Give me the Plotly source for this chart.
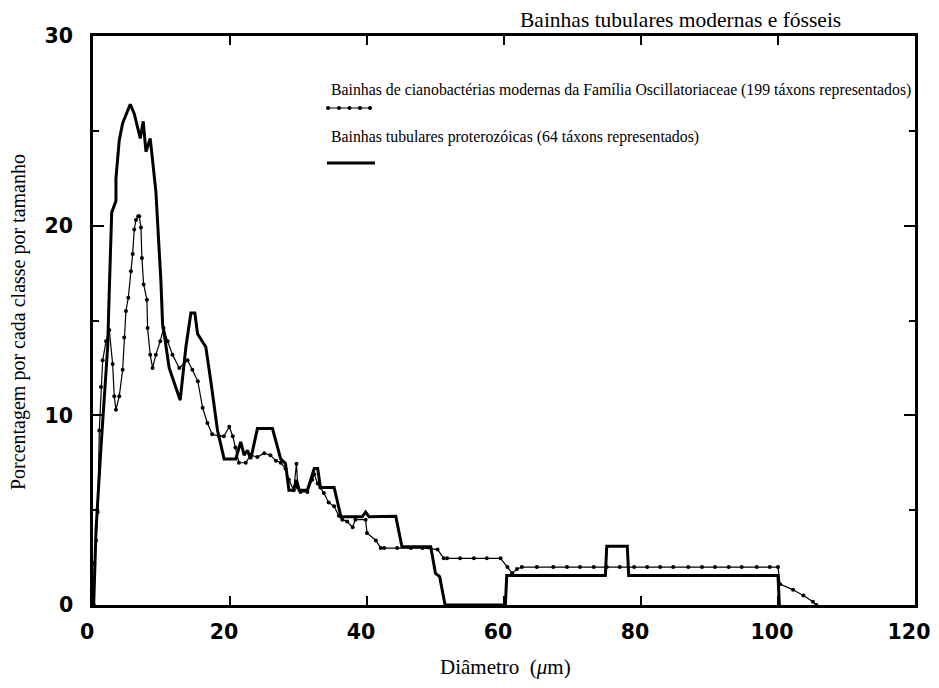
import plotly.graph_objects as go

# ---------------- data ----------------
proterozoic_x = [0.1, 0.44, 1.17, 1.65, 2.14, 2.38, 2.73, 3.35, 3.35, 3.83, 4.33, 5.44, 6.02, 6.9,
                 7.33, 7.73, 8.35, 8.56, 9.18, 9.91, 10.16, 10.39, 11.12, 12.73, 13.56, 14.29,
                 14.87, 15.26, 16.47, 17.2, 18.18, 19.14, 20.85, 21.57, 22.06, 22.55, 23.03, 24.0,
                 26.2, 27.4, 28.1, 28.6, 29.3, 29.7, 30.1, 31.3, 32.3, 32.8, 33.2, 35.2, 36.2,
                 39.3, 39.8, 40.3, 44.2, 45.1, 49.3, 50.0, 50.6, 51.4, 60.2, 60.4, 74.8, 75.0,
                 78.0, 78.2, 100.0, 100.2]
proterozoic_y = [0, 3.95, 8.33, 10.96, 13.6, 16.6, 20.7, 21.3, 22.5, 24.5, 25.4, 26.4, 25.9, 24.6,
                 25.5, 23.9, 24.6, 23.9, 21.8, 17.1, 14.8, 14.3, 12.5, 10.8, 13.6, 15.4,
                 15.4, 14.3, 13.6, 11.8, 9.2, 7.7, 7.7, 8.6, 7.9, 8.16, 7.7, 9.3,
                 9.3, 7.7, 7.46, 6.05, 6.05, 6.6, 6.05, 6.05, 7.2, 7.2, 6.2, 6.2, 4.65,
                 4.65, 4.9, 4.65, 4.68, 3.07, 3.07, 1.67, 1.5, 0, 0, 1.55, 1.55, 3.1,
                 3.1, 1.55, 1.55, 0]

modern_x = [0.1, 0.19, 0.44, 0.69, 0.92, 1.17, 1.41, 1.9, 2.38, 2.87, 3.1, 3.35, 3.83, 4.33,
            4.56, 4.81, 5.15, 5.54, 5.79, 6.02, 6.27, 6.6, 6.75, 7.0, 7.14, 7.39, 7.87, 7.97,
            8.35, 8.7, 9.18, 9.81, 10.3, 10.9, 11.6, 12.6, 13.8, 14.5, 15.3, 16.0, 16.7, 17.4,
            18.4, 19.1, 19.9, 20.4, 20.8, 21.3, 22.3, 23.0, 24.0, 25.0, 25.9, 26.7, 27.4, 28.1,
            28.6, 29.3, 29.7, 29.9, 30.3, 31.3, 32.0, 32.3, 32.8, 33.2, 33.7, 34.4, 35.2, 35.9,
            36.4, 37.1, 37.9, 38.3, 39.8, 40.0, 41.3, 42.0, 42.5, 44.4, 46.4, 48.1, 50.3, 51.2,
            51.7, 53.6, 55.6, 57.5, 59.5, 60.5, 61.2, 61.9, 62.6, 64.8, 67.2, 69.2, 71.1, 73.1,
            75.0, 76.9, 79.0, 80.9, 82.8, 84.7, 86.9, 88.9, 90.8, 92.8, 94.7, 96.9, 98.8, 100.0,
            100.3, 102.2, 103.7, 105.1, 105.6]
modern_y = [0, 2.2, 3.4, 4.9, 9.2, 11.5, 12.9, 13.9, 14.5, 12.7, 11.0, 10.3, 11.0, 12.4,
            14.1, 15.5, 16.2, 17.6, 18.5, 19.8, 20.3, 20.5, 20.5, 19.9, 18.3, 16.9, 16.1, 14.6,
            13.2, 12.5, 13.2, 13.9, 14.6, 13.9, 13.2, 12.5, 12.9, 12.4, 11.8, 10.4, 9.6, 9.0,
            8.9, 8.9, 9.4, 8.9, 8.3, 7.5, 7.5, 7.9, 7.8, 8.0, 7.9, 7.6, 7.5, 7.2,
            6.6, 6.05, 7.45, 6.2, 5.96, 5.96, 6.6, 6.9, 6.4, 6.2, 5.9, 5.4, 5.2, 4.7,
            4.5, 4.4, 4.1, 4.5, 4.5, 3.8, 3.4, 3.0, 3.0, 3.0, 3.0, 3.0, 2.93, 2.46,
            2.46, 2.46, 2.46, 2.46, 2.46, 2.0, 1.67, 1.9, 2.0, 2.0, 2.0, 2.0, 2.0, 2.0,
            2.0, 2.0, 2.0, 2.0, 2.0, 2.0, 2.0, 2.0, 2.0, 2.0, 2.0, 2.0, 2.0, 2.0,
            1.1, 0.8, 0.5, 0.17, 0]

x_ticks = [0, 20, 40, 60, 80, 100, 120]
y_ticks = [0, 10, 20, 30]

title_text = "Bainhas tubulares modernas e fósseis"
modern_label = "Bainhas de cianobactérias modernas da Família Oscillatoriaceae (199 táxons representados)"
prot_label = "Bainhas tubulares proterozóicas (64 táxons representados)"
x_title = "Diâmetro  (<i>μ</i>m)"
y_title = "Porcentagem por cada classe por tamanho"

# ---------------- figure ----------------
# The page body has an 8 px margin, so the figure starts at (8, 8) in the window.
OFF = 8
W, H = 939 - 2 * OFF, 688 - 2 * OFF
PLOT_L, PLOT_R, PLOT_T, PLOT_B = 93, 915, 36, 605      # target window pixels
L, T = PLOT_L - OFF, PLOT_T - OFF
R = W - (PLOT_R - OFF)
B = H - (PLOT_B - OFF)
PW, PH = PLOT_R - PLOT_L, PLOT_B - PLOT_T


def pxx(v):
    """window x pixel -> paper coordinate"""
    return (v - PLOT_L) / PW


def pxy(v):
    """window y pixel -> paper coordinate"""
    return (PLOT_B - v) / PH


SERIF = "Liberation Serif"
SANS = "DejaVu Sans"

fig = go.Figure()
fig.add_trace(go.Scatter(x=modern_x, y=modern_y, mode="lines+markers",
                         line=dict(color="black", width=1.2),
                         marker=dict(color="black", size=4), name=modern_label))
fig.add_trace(go.Scatter(x=proterozoic_x, y=proterozoic_y, mode="lines",
                         line=dict(color="black", width=3), name=prot_label))

axis_common = dict(showline=True, linewidth=2.5, linecolor="black", mirror="ticks",
                   showgrid=False, zeroline=False, ticks="inside", tickwidth=2,
                   tickcolor="black", automargin=False, ticklabeloverflow="allow",
                   tickfont=dict(family=SANS, size=20.5, color="black", weight="bold"))

fig.update_xaxes(range=[0, 120], tickvals=x_ticks, ticklen=9, ticklabelstandoff=7,
                 ticklabelshift=-6, **axis_common)
fig.update_yaxes(range=[0, 30], tickvals=y_ticks, ticklen=11, ticklabelstandoff=13,
                 minor=dict(ticks="inside", dtick=5, ticklen=6, tickcolor="black", tickwidth=2),
                 **axis_common)

ann = []
ann.append(dict(text=title_text, x=pxx(680), y=pxy(20), xref="paper", yref="paper",
                xanchor="center", yanchor="middle", showarrow=False,
                font=dict(family=SERIF, size=21.5, color="black")))
ann.append(dict(text=modern_label, x=pxx(329), y=pxy(90), xref="paper", yref="paper",
                xanchor="left", yanchor="middle", showarrow=False,
                font=dict(family=SERIF, size=15.8, color="black")))
ann.append(dict(text=prot_label, x=pxx(329), y=pxy(137), xref="paper", yref="paper",
                xanchor="left", yanchor="middle", showarrow=False,
                font=dict(family=SERIF, size=15.8, color="black")))
ann.append(dict(text=x_title, x=pxx(505), y=pxy(667), xref="paper", yref="paper",
                xanchor="center", yanchor="middle", showarrow=False,
                font=dict(family=SERIF, size=21, color="black")))
ann.append(dict(text=y_title, x=pxx(19), y=pxy(322), xref="paper", yref="paper",
                xanchor="center", yanchor="middle", showarrow=False, textangle=-90,
                font=dict(family=SERIF, size=20, color="black")))

shapes = []
# legend sample: thin line with dots
shapes.append(dict(type="line", xref="paper", yref="paper", x0=pxx(327), x1=pxx(371),
                   y0=pxy(108), y1=pxy(108), line=dict(color="black", width=1.2)))
for cx in [328, 339, 349.5, 360, 370]:
    r = 2
    shapes.append(dict(type="circle", xref="paper", yref="paper",
                       x0=pxx(cx - r), x1=pxx(cx + r), y0=pxy(108 + r), y1=pxy(108 - r),
                       fillcolor="black", line=dict(color="black", width=0)))
# legend sample: thick solid line
shapes.append(dict(type="line", xref="paper", yref="paper", x0=pxx(327), x1=pxx(375),
                   y0=pxy(163), y1=pxy(163), line=dict(color="black", width=3)))

fig.update_layout(width=W, height=H, margin=dict(l=L, r=R, t=T, b=B, autoexpand=False),
                  plot_bgcolor="white", paper_bgcolor="white", showlegend=False,
                  annotations=ann, shapes=shapes)

fig.write_html("out.html")
